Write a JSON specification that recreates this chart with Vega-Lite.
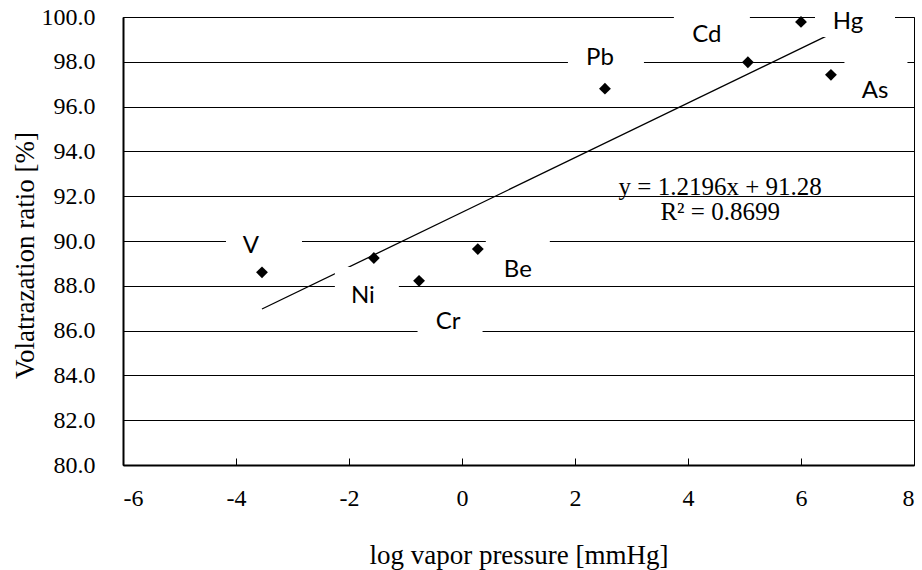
{
  "$schema": "https://vega.github.io/schema/vega-lite/v6.json",
  "width": 791,
  "height": 448,
  "autosize": "none",
  "padding": {"left": 123, "top": 17, "right": 8, "bottom": 105},
  "background": "white",
  "config": {
    "view": {"stroke": "black", "strokeWidth": 1},
    "axis": {
      "domainColor": "black",
      "domainWidth": 2,
      "gridColor": "black",
      "gridWidth": 1,
      "gridOpacity": 1,
      "tickColor": "black",
      "labelColor": "black",
      "titleColor": "black",
      "titleFontWeight": "normal"
    }
  },
  "datasets": {
    "elements": [
      {"element": "V", "vp": -3.54, "vr": 88.6},
      {"element": "Ni", "vp": -1.56, "vr": 89.24},
      {"element": "Cr", "vp": -0.76, "vr": 88.22},
      {"element": "Be", "vp": 0.28, "vr": 89.64},
      {"element": "Pb", "vp": 2.53, "vr": 96.8},
      {"element": "Cd", "vp": 5.06, "vr": 97.98},
      {"element": "Hg", "vp": 6.0, "vr": 99.78},
      {"element": "As", "vp": 6.53, "vr": 97.42}
    ],
    "trend": [
      {"vp": -3.54, "vr": 86.963},
      {"vp": 6.53, "vr": 99.244}
    ],
    "fit": [
      {"eq": "y = 1.2196x + 91.28", "vp": 4.57, "vr": 92.05},
      {"eq": "R² = 0.8699", "vp": 4.57, "vr": 90.95}
    ]
  },
  "encoding": {
    "x": {
      "field": "vp",
      "type": "quantitative",
      "scale": {"domain": [-6, 8], "nice": false, "zero": false},
      "axis": {
        "title": "log vapor pressure [mmHg]",
        "values": [-6, -4, -2, 0, 2, 4, 6, 8],
        "labelExpr": "'' + datum.value",
        "labelFont": "Liberation Serif",
        "labelFontSize": 24,
        "titleFont": "Liberation Serif",
        "titleFontSize": 27,
        "titleBaseline": "alphabetic",
        "titleY": 98,
        "grid": false,
        "tickSize": -7,
        "tickWidth": 1,
        "labelPadding": 28
      }
    },
    "y": {
      "field": "vr",
      "type": "quantitative",
      "scale": {"domain": [80, 100], "nice": false, "zero": false},
      "axis": {
        "title": "Volatrazation ratio [%]",
        "values": [80, 82, 84, 86, 88, 90, 92, 94, 96, 98, 100],
        "format": ".1f",
        "labelFont": "Liberation Serif",
        "labelFontSize": 24,
        "titleFont": "Liberation Serif",
        "titleFontSize": 27,
        "grid": true,
        "ticks": false,
        "labelPadding": 28,
        "titleX": -90,
        "titleY": 238,
        "titleBaseline": "alphabetic",
        "titleAngle": -90
      }
    }
  },
  "layer": [
    {
      "data": {"name": "trend"},
      "mark": {"type": "line", "color": "black", "strokeWidth": 1.3}
    },
    {
      "data": {"name": "elements"},
      "layer": [
        {
          "transform": [{"filter": "datum.element === 'V'"}],
          "layer": [
            {"mark": {"type": "point", "shape": "M-1,-0.553H1V0.553H-1Z", "size": 5776, "filled": true, "color": "white", "opacity": 1, "xOffset": 2, "yOffset": -31}},
            {"mark": {"type": "text", "font": "Lato", "fontSize": 24, "color": "black", "baseline": "middle", "dx": -11, "dy": -26}, "encoding": {"text": {"field": "element"}}}
          ]
        },
        {
          "transform": [{"filter": "datum.element === 'Ni'"}],
          "layer": [
            {"mark": {"type": "point", "shape": "M-1,-0.656H1V0.656H-1Z", "size": 4096, "filled": true, "color": "white", "opacity": 1, "xOffset": -7, "yOffset": 30}},
            {"mark": {"type": "text", "font": "Lato", "fontSize": 24, "color": "black", "baseline": "middle", "dx": -11, "dy": 38}, "encoding": {"text": {"field": "element"}}}
          ]
        },
        {
          "transform": [{"filter": "datum.element === 'Cr'"}],
          "layer": [
            {"mark": {"type": "point", "shape": "M-1,-0.646H1V0.646H-1Z", "size": 4225, "filled": true, "color": "white", "opacity": 1, "xOffset": 31, "yOffset": 36}},
            {"mark": {"type": "text", "font": "Lato", "fontSize": 24, "color": "black", "baseline": "middle", "dx": 29, "dy": 41}, "encoding": {"text": {"field": "element"}}}
          ]
        },
        {
          "transform": [{"filter": "datum.element === 'Be'"}],
          "layer": [
            {"mark": {"type": "point", "shape": "M-1,-0.656H1V0.656H-1Z", "size": 4096, "filled": true, "color": "white", "opacity": 1, "xOffset": 40, "yOffset": 12}},
            {"mark": {"type": "text", "font": "Lato", "fontSize": 24, "color": "black", "baseline": "middle", "dx": 40, "dy": 21}, "encoding": {"text": {"field": "element"}}}
          ]
        },
        {
          "transform": [{"filter": "datum.element === 'Pb'"}],
          "layer": [
            {"mark": {"type": "point", "shape": "M-1,-0.553H1V0.553H-1Z", "size": 5776, "filled": true, "color": "white", "opacity": 1, "xOffset": 1, "yOffset": -37}},
            {"mark": {"type": "text", "font": "Lato", "fontSize": 24, "color": "black", "baseline": "middle", "dx": -5, "dy": -31}, "encoding": {"text": {"field": "element"}}}
          ]
        },
        {
          "transform": [{"filter": "datum.element === 'Cd'"}],
          "layer": [
            {"mark": {"type": "point", "shape": "M-1,-0.553H1V0.553H-1Z", "size": 5776, "filled": true, "color": "white", "opacity": 1, "xOffset": -36, "yOffset": -34}},
            {"mark": {"type": "text", "font": "Lato", "fontSize": 24, "color": "black", "baseline": "middle", "dx": -41, "dy": -27}, "encoding": {"text": {"field": "element"}}}
          ]
        },
        {
          "transform": [{"filter": "datum.element === 'Hg'"}],
          "layer": [
            {"mark": {"type": "point", "shape": "M-1,-0.525H1V0.525H-1Z", "size": 6400, "filled": true, "color": "white", "opacity": 1, "xOffset": 54, "yOffset": -6}},
            {"mark": {"type": "text", "font": "Lato", "fontSize": 24, "color": "black", "baseline": "middle", "dx": 47, "dy": 0}, "encoding": {"text": {"field": "element"}}}
          ]
        },
        {
          "transform": [{"filter": "datum.element === 'As'"}],
          "layer": [
            {"mark": {"type": "point", "shape": "M-1,-0.667H1V0.667H-1Z", "size": 3969, "filled": true, "color": "white", "opacity": 1, "xOffset": 45, "yOffset": 7}},
            {"mark": {"type": "text", "font": "Lato", "fontSize": 24, "color": "black", "baseline": "middle", "dx": 44, "dy": 16}, "encoding": {"text": {"field": "element"}}}
          ]
        },
        {
          "mark": {"type": "point", "shape": "diamond", "size": 140, "filled": true, "color": "black", "opacity": 1}
        }
      ]
    },
    {
      "data": {"name": "fit"},
      "mark": {"type": "text", "font": "Liberation Serif", "fontSize": 25, "color": "black", "align": "center", "baseline": "alphabetic"},
      "encoding": {
        "text": {"field": "eq"}
      }
    }
  ]
}
